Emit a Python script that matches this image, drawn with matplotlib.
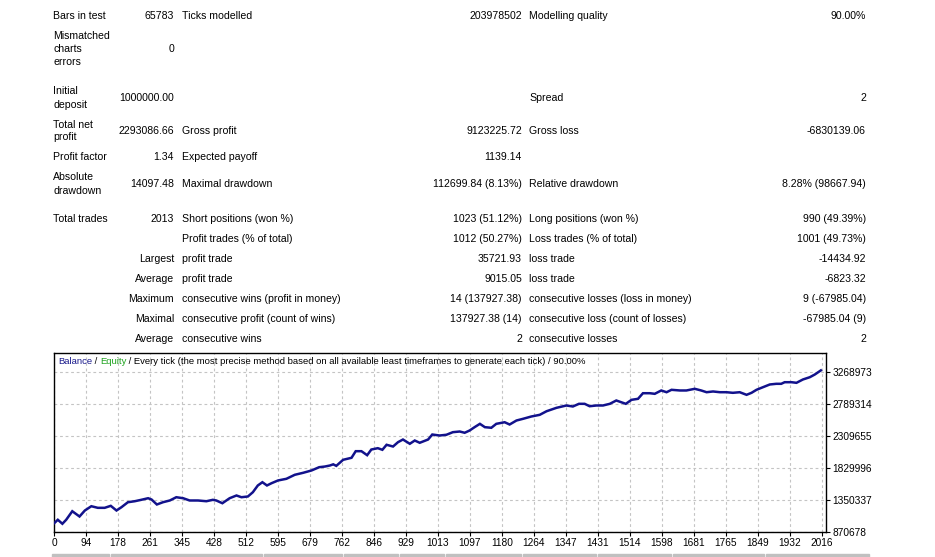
import matplotlib
matplotlib.use("Agg")
import matplotlib.pyplot as plt
from matplotlib.patches import Rectangle

W, H = 935, 557
FONT = "Liberation Sans"
FS = 7.6

# ---------------- report table data ----------------
rows = [
    # (y_px, col1 lines, col2, col3, col4, col5, col6)
    (16, ["Bars in test"], "65783", "Ticks modelled", "203978502", "Modelling quality", "90.00%"),
    (49, ["Mismatched", "charts", "errors"], "0", "", "", "", ""),
    (98, ["Initial", "deposit"], "1000000.00", "", "", "Spread", "2"),
    (131, ["Total net", "profit"], "2293086.66", "Gross profit", "9123225.72", "Gross loss", "-6830139.06"),
    (157, ["Profit factor"], "1.34", "Expected payoff", "1139.14", "", ""),
    (184, ["Absolute", "drawdown"], "14097.48", "Maximal drawdown", "112699.84 (8.13%)", "Relative drawdown", "8.28% (98667.94)"),
    (219, ["Total trades"], "2013", "Short positions (won %)", "1023 (51.12%)", "Long positions (won %)", "990 (49.39%)"),
    (239, [], "", "Profit trades (% of total)", "1012 (50.27%)", "Loss trades (% of total)", "1001 (49.73%)"),
    (259, [], "Largest", "profit trade", "35721.93", "loss trade", "-14434.92"),
    (279, [], "Average", "profit trade", "9015.05", "loss trade", "-6823.32"),
    (299, [], "Maximum", "consecutive wins (profit in money)", "14 (137927.38)", "consecutive losses (loss in money)", "9 (-67985.04)"),
    (319, [], "Maximal", "consecutive profit (count of wins)", "137927.38 (14)", "consecutive loss (count of losses)", "-67985.04 (9)"),
    (339, [], "Average", "consecutive wins", "2", "consecutive losses", "2"),
]

# ---------------- balance curve data ----------------
trades = [0, 10, 22, 32, 48, 67, 81, 98, 115, 133, 149, 164, 177, 194, 212, 229, 247, 256,
          270, 286, 304, 321, 339, 356, 378, 400, 417, 426, 442, 461, 479, 492, 509, 522,
          535, 547, 559, 571, 588, 610, 632, 654, 676, 696, 711, 724, 733, 741, 759, 781,
          792, 807, 822, 833, 850, 862, 873, 890, 903, 916, 934, 947, 960, 982, 993, 1012,
          1030, 1047, 1065, 1078, 1091, 1104, 1118, 1131, 1148, 1161, 1183, 1196, 1214,
          1231, 1253, 1275, 1293, 1319, 1345, 1362, 1378, 1393, 1406, 1424, 1441, 1459,
          1476, 1489, 1501, 1516, 1533, 1546, 1564, 1577, 1594, 1608, 1621, 1643, 1660,
          1682, 1699, 1713, 1730, 1748, 1765, 1782, 1800, 1818, 1831, 1844, 1857, 1879,
          1896, 1909, 1918, 1936, 1949, 1966, 1984, 1997, 2013]
balance_k = [1000, 1054, 994, 1054, 1182, 1103, 1193, 1257, 1233, 1233, 1263, 1193, 1242,
             1317, 1332, 1353, 1377, 1358, 1283, 1317, 1343, 1392, 1377, 1343, 1343, 1332,
             1353, 1343, 1302, 1377, 1418, 1392, 1403, 1467, 1568, 1617, 1568, 1602, 1643,
             1668, 1728, 1758, 1793, 1842, 1852, 1867, 1885, 1862, 1953, 1983, 2082, 2082,
             2022, 2107, 2127, 2103, 2178, 2152, 2217, 2257, 2193, 2242, 2208, 2257, 2332,
             2317, 2328, 2367, 2377, 2358, 2392, 2442, 2492, 2442, 2433, 2492, 2516, 2482,
             2542, 2567, 2602, 2627, 2681, 2732, 2767, 2752, 2792, 2792, 2756, 2767, 2767,
             2792, 2842, 2816, 2792, 2852, 2867, 2951, 2951, 2942, 2992, 2966, 3002, 2992,
             2992, 3017, 2992, 2966, 2977, 2966, 2966, 2957, 2966, 2927, 2957, 3002, 3032,
             3082, 3092, 3092, 3116, 3116, 3107, 3157, 3191, 3231, 3293]
balance = [v * 1000 for v in balance_k]

x_tick_labels = ["0", "94", "178", "261", "345", "428", "512", "595", "679", "762", "846",
                 "929", "1013", "1097", "1180", "1264", "1347", "1431", "1514", "1598",
                 "1681", "1765", "1849", "1932", "2016"]
y_tick_values = [870678, 1350337, 1829996, 2309655, 2789314, 3268973]

fig = plt.figure(figsize=(W / 100, H / 100), dpi=100)
fig.patch.set_facecolor("white")


def fx(x):
    return x / W


def fy(y):
    return 1 - y / H


def put(x, y, s, ha="left", color="black", fs=FS):
    if s:
        fig.text(fx(x), fy(y), s, ha=ha, va="center", fontsize=fs,
                 family=FONT, color=color)


for (y, lab1, v2, l3, v4, l5, v6) in rows:
    n = len(lab1)
    for i, line in enumerate(lab1):
        put(53, y + (i - (n - 1) / 2) * 13, line)
    put(174, y, v2, ha="right")
    put(182, y, l3)
    put(522, y, v4, ha="right")
    put(529, y, l5)
    put(866, y, v6, ha="right")

# ---------------- chart ----------------
ax_l, ax_r, ax_t, ax_b = 54, 826, 353, 532
ax = fig.add_axes([fx(ax_l), fy(ax_b), (ax_r - ax_l) / W, (ax_b - ax_t) / H])
step_y = y_tick_values[1] - y_tick_values[0]
ax.set_ylim(y_tick_values[0], y_tick_values[0] + step_y * (ax_b - ax_t) / 32.0)
x_step = 84
ax.set_xlim(0, x_step * (ax_r - ax_l) / 32.0)

ax.plot(trades, balance, color="#12128c", linewidth=1.8, solid_joinstyle="miter", zorder=3)

ax.set_xticks([i * x_step for i in range(len(x_tick_labels))])
ax.set_xticklabels(x_tick_labels)
ax.set_yticks(y_tick_values)
ax.set_yticklabels([str(v) for v in y_tick_values])
ax.yaxis.tick_right()
ax.tick_params(axis="both", direction="out", length=3, width=0.8, colors="black",
               labelsize=FS - 0.3)
ax.tick_params(axis="x", pad=1)
ax.tick_params(axis="y", pad=1.8)
for lab in ax.get_xticklabels() + ax.get_yticklabels():
    lab.set_family(FONT)
ax.grid(True, color="#c4c4c4", linestyle=(0, (2.5, 2.5)), linewidth=0.8, zorder=0)
for sp in ax.spines.values():
    sp.set_color("black")
    sp.set_linewidth(1.0)

# legend header text inside chart (multicolour)
fig.canvas.draw()
renderer = fig.canvas.get_renderer()
parts = [("Balance", "#1a1a8c"), (" / ", "black"), ("Equity", "#1fa31f"),
         (" / Every tick (the most precise method based on all available least timeframes to generate each tick) / 90.00%", "black")]
xcur = 58
for s, c in parts:
    t = fig.text(fx(xcur), fy(362), s, ha="left", va="center", fontsize=6.8,
                 family=FONT, color=c)
    bb = t.get_window_extent(renderer=renderer)
    xcur += bb.width

# bottom table border strip
gaps = [51, 110, 263, 343, 399, 445, 522, 597, 672, 765, 870]
for a, b in zip(gaps[:-1], gaps[1:]):
    fig.patches.append(Rectangle((fx(a + 1), 0), (b - a - 2) / W, 3 / H,
                                 transform=fig.transFigure, color="#c0c0c0"))

fig.savefig("out.png", dpi=100, facecolor="white")
